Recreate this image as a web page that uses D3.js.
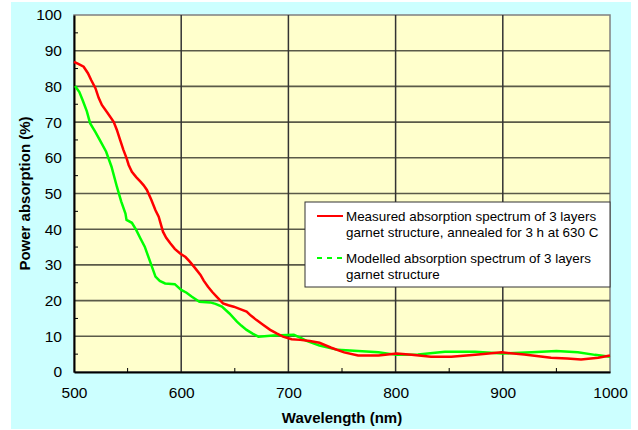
<!DOCTYPE html>
<html>
<head>
<meta charset="utf-8">
<script src="https://cdn.jsdelivr.net/npm/d3@7"></script>
<style>
  body { margin: 0; background: #fff; }
  svg { display: block; font-family: "Liberation Sans", Arial, sans-serif; }
</style>
</head>
<body>
<div id="chart"></div>
<script>
// wavelength (nm) / absorption (%)
const measuredX = [500, 504, 509, 513, 516, 520, 523, 526, 531, 537, 540, 543, 546, 549, 551, 554, 558, 562, 565, 568, 572, 576, 579, 583, 586, 590, 594, 599, 604, 608, 613, 618, 621, 625, 629, 633, 639, 644, 649, 655, 661, 665, 670, 676, 683, 689, 695, 703, 711, 720, 729, 740, 752, 765, 784, 801, 815, 833, 852, 877, 899, 920, 945, 960, 973, 989, 1000];
const measuredY = [86.9, 86.3, 85.5, 83.7, 81.8, 79.5, 76.8, 74.8, 72.7, 70.1, 67.8, 65, 62.3, 59.9, 58, 56.1, 54.6, 53.3, 52.3, 51, 48.3, 45.3, 43.5, 39.3, 37.6, 36, 34.5, 33.2, 32.2, 30.9, 29.1, 27.2, 25.6, 23.9, 22.4, 21.1, 19.2, 18.7, 18.3, 17.6, 16.9, 15.8, 14.6, 13.3, 11.8, 10.8, 9.9, 9.2, 9.0, 8.7, 8.2, 6.8, 5.5, 4.6, 4.6, 5.2, 4.8, 4.3, 4.3, 4.9, 5.5, 4.9, 4.0, 3.8, 3.5, 4.0, 4.6];

const modelX = [501, 505, 508, 512, 515, 520, 524, 530, 535, 540, 544, 548, 549, 554, 558, 562, 566, 571, 576, 580, 585, 594, 600, 605, 610, 617, 627, 632, 638, 645, 652, 656, 661, 667, 672, 686, 705, 711, 717, 729, 746, 765, 784, 801, 821, 846, 874, 900, 927, 950, 970, 986, 1000];
const modelY = [80.1, 78.4, 76.2, 73, 69.7, 67.2, 65, 61.7, 57.5, 51.9, 47.8, 44.4, 42.6, 41.8, 39.8, 37.4, 35.1, 30.9, 26.7, 25.5, 24.8, 24.6, 23, 22.2, 21.1, 19.7, 19.5, 19.1, 18.3, 16.4, 14.1, 13, 11.8, 10.7, 9.9, 10.2, 10.4, 9.6, 8.7, 7.4, 6.2, 5.9, 5.5, 4.8, 4.9, 5.7, 5.7, 5.2, 5.5, 5.9, 5.5, 4.8, 4.3];

const xTicks = [500, 600, 700, 800, 900, 1000];
const yTicks = [0, 10, 20, 30, 40, 50, 60, 70, 80, 90, 100];
const legendLabels = [
  ['Measured absorption spectrum of 3 layers', 'garnet structure, annealed for 3 h at 630 C'],
  ['Modelled absorption spectrum of 3 layers', 'garnet structure']
];

const W = 638, H = 430;
const plot = { left: 74, top: 15, right: 610, bottom: 372 };

const svg = d3.select('#chart').append('svg')
  .attr('width', W)
  .attr('height', H);

svg.append('rect')
  .attr('x', 11).attr('y', 2)
  .attr('width', 620).attr('height', 427)
  .attr('fill', '#ccffff');

const x = d3.scaleLinear().domain([500, 1000]).range([plot.left, plot.right]);
const y = d3.scaleLinear().domain([0, 100]).range([plot.bottom, plot.top]);

svg.append('rect')
  .attr('x', plot.left).attr('y', plot.top)
  .attr('width', plot.right - plot.left)
  .attr('height', plot.bottom - plot.top)
  .attr('fill', '#ffffcc')
  .attr('stroke', '#808080')
  .attr('stroke-width', 1.5);

// grid
svg.append('g')
  .selectAll('line')
  .data(yTicks.slice(1, -1))
  .enter()
  .append('line')
  .attr('x1', plot.left).attr('x2', plot.right)
  .attr('y1', (d) => y(d)).attr('y2', (d) => y(d))
  .attr('stroke', '#5a5a48')
  .attr('stroke-width', 1.6);

svg.append('g')
  .selectAll('line')
  .data(xTicks.slice(1, -1))
  .enter()
  .append('line')
  .attr('x1', (d) => x(d)).attr('x2', (d) => x(d))
  .attr('y1', plot.top).attr('y2', plot.bottom)
  .attr('stroke', '#333')
  .attr('stroke-width', 1.5);

// minor ticks inside
svg.append('g')
  .selectAll('line')
  .data(d3.range(5, 100, 10))
  .enter()
  .append('line')
  .attr('x1', plot.left).attr('x2', plot.left + 4)
  .attr('y1', (d) => y(d)).attr('y2', (d) => y(d))
  .attr('stroke', '#000');

svg.append('g')
  .selectAll('line')
  .data(d3.range(550, 1000, 100))
  .enter()
  .append('line')
  .attr('x1', (d) => x(d)).attr('x2', (d) => x(d))
  .attr('y1', plot.bottom).attr('y2', plot.bottom - 4)
  .attr('stroke', '#000');

// axes
const yAxis = svg.append('g')
  .attr('transform', `translate(${plot.left},0)`)
  .call(d3.axisLeft(y).tickValues(yTicks).tickSize(0).tickPadding(12));
const xAxis = svg.append('g')
  .attr('transform', `translate(0,${plot.bottom})`)
  .call(d3.axisBottom(x).tickValues(xTicks).tickFormat(d3.format('d')).tickSize(0).tickPadding(15));
[xAxis, yAxis].forEach((g) => {
  g.select('.domain').attr('stroke', '#000').attr('stroke-width', 2);
  g.selectAll('text')
    .attr('font-family', '"Liberation Sans", Arial, sans-serif')
    .attr('font-size', 15.5)
    .attr('fill', '#000');
});

// curves
const line = d3.line()
  .x((d) => x(d[0]))
  .y((d) => y(d[1]));

svg.append('path')
  .datum(modelX.map((v, i) => [v, modelY[i]]))
  .attr('d', line)
  .attr('fill', 'none')
  .attr('stroke', '#00ff00')
  .attr('stroke-width', 2.5);

svg.append('path')
  .datum(measuredX.map((v, i) => [v, measuredY[i]]))
  .attr('d', line)
  .attr('fill', 'none')
  .attr('stroke', '#ff0000')
  .attr('stroke-width', 2.5);

// titles
svg.append('text')
  .attr('x', (plot.left + plot.right) / 2)
  .attr('y', 423)
  .attr('text-anchor', 'middle')
  .attr('font-weight', 'bold')
  .attr('font-size', 15)
  .text('Wavelength (nm)');

svg.append('text')
  .attr('transform', `translate(30,${(plot.top + plot.bottom) / 2}) rotate(-90)`)
  .attr('text-anchor', 'middle')
  .attr('font-weight', 'bold')
  .attr('font-size', 15)
  .text('Power absorption (%)');

// legend
const legend = svg.append('g');
legend.append('rect')
  .attr('x', 305).attr('y', 202)
  .attr('width', 305).attr('height', 85)
  .attr('fill', '#fff')
  .attr('stroke', '#333')
  .attr('stroke-width', 1);

const legendY = [216, 258];
const legendColors = ['#ff0000', '#00ff00'];
legendLabels.forEach((lines, i) => {
  legend.append('line')
    .attr('x1', 317).attr('x2', 343)
    .attr('y1', legendY[i]).attr('y2', legendY[i])
    .attr('stroke', legendColors[i])
    .attr('stroke-width', 2)
    .attr('stroke-dasharray', i === 1 ? '5,5' : null);
  lines.forEach((t, j) => {
    legend.append('text')
      .attr('x', 346)
      .attr('y', legendY[i] + 4.5 + j * 16)
      .attr('font-size', 13.4)
      .text(t);
  });
});
</script>
</body>
</html>
